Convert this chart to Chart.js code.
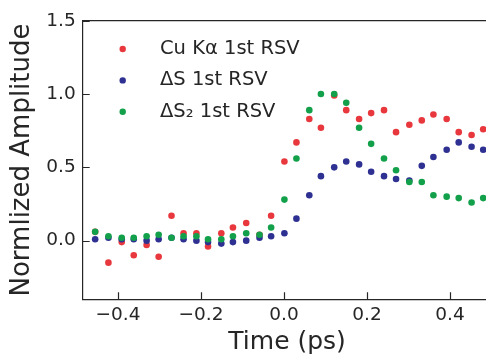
<!DOCTYPE html>
<html>
<head>
<meta charset="utf-8">
<script src="https://cdn.jsdelivr.net/npm/chart.js@4.4.0/dist/chart.umd.min.js"></script>
<style>
  html, body { margin: 0; padding: 0; background: #fff; overflow: hidden; }
  #wrap { width: 486px; height: 357px; overflow: hidden; }
  #box { width: 500px; height: 357px; }
</style>
</head>
<body>
<div id="wrap"><div id="box"><canvas id="chart"></canvas></div></div>
<script>
// time delays (ps)
const times = [-0.455, -0.423, -0.391, -0.362, -0.331, -0.302, -0.271, -0.242,
  -0.211, -0.183, -0.151, -0.123, -0.091, -0.059, -0.031, 0.001,
  0.030, 0.061, 0.089, 0.121, 0.150, 0.181, 0.210, 0.241,
  0.270, 0.302, 0.332, 0.360, 0.392, 0.421, 0.452, 0.480];

const cuKa = [0.06, -0.15, -0.01, -0.10, -0.03, -0.11, 0.17, 0.05,
  0.05, -0.04, 0.05, 0.09, 0.12, 0.04, 0.17, 0.54,
  0.67, 0.83, 0.77, 0.99, 0.89, 0.83, 0.87, 0.89,
  0.74, 0.79, 0.82, 0.86, 0.83, 0.74, 0.72, 0.76];

const dS = [0.01, 0.02, 0.01, 0.01, 0.00, 0.01, 0.02, 0.01,
  0.00, -0.01, -0.02, -0.01, 0.00, 0.02, 0.03, 0.05,
  0.15, 0.31, 0.44, 0.50, 0.54, 0.52, 0.47, 0.44,
  0.42, 0.41, 0.51, 0.57, 0.62, 0.67, 0.64, 0.62];

const dS2 = [0.06, 0.03, 0.02, 0.02, 0.03, 0.04, 0.02, 0.03,
  0.03, 0.01, 0.01, 0.03, 0.05, 0.04, 0.09, 0.28,
  0.56, 0.89, 1.00, 1.00, 0.94, 0.77, 0.66, 0.56,
  0.48, 0.40, 0.40, 0.31, 0.30, 0.29, 0.26, 0.29];

const labels = ["Cu K\u03b1 1st RSV", "\u0394S 1st RSV", "\u0394S\u2082 1st RSV"];
const colors = ["#e8383d", "#2e3192", "#12a04a"];

const xTicks = [-0.4, -0.2, 0.0, 0.2, 0.4];
const yTicks = [0.0, 0.5, 1.0, 1.5];

const FONT = "'DejaVu Sans', sans-serif";
const INK = "#262626";

const pts = (ys) => ys.map((y, i) => ({ x: times[i], y: y }));
const fmt = (v) => (v < 0 ? "\u2212" : "") + Math.abs(v).toFixed(1);

// inward ticks, top spine and the in-plot legend
const frame = {
  id: "frame",
  afterDraw(chart) {
    const ctx = chart.ctx;
    const a = chart.chartArea;
    const xs = chart.scales.x, ys = chart.scales.y;
    ctx.save();
    ctx.strokeStyle = INK;
    ctx.lineWidth = 1.2;
    ctx.beginPath();
    ctx.moveTo(a.left, a.top);
    ctx.lineTo(a.right, a.top);
    xTicks.forEach((v) => {
      const px = Math.round(xs.getPixelForValue(v)) + 0.5;
      ctx.moveTo(px, a.bottom);
      ctx.lineTo(px, a.bottom - 7);
    });
    yTicks.forEach((v) => {
      const py = Math.round(ys.getPixelForValue(v)) + 0.5;
      ctx.moveTo(a.left, py);
      ctx.lineTo(a.left + 7, py);
    });
    ctx.stroke();

    ctx.font = "19.5px " + FONT;
    ctx.textBaseline = "middle";
    ctx.textAlign = "left";
    chart.data.datasets.forEach((ds, i) => {
      const y = 49 + i * 31.4;
      ctx.fillStyle = ds.backgroundColor;
      ctx.beginPath();
      ctx.arc(122.7, y, 3.2, 0, Math.PI * 2);
      ctx.fill();
      ctx.fillStyle = INK;
      ctx.fillText(ds.label, 160, y);
    });
    ctx.restore();
  }
};

const datasets = [cuKa, dS, dS2].map((ys, i) => ({
  label: labels[i],
  data: pts(ys),
  backgroundColor: colors[i],
  borderWidth: 0,
  pointRadius: 3.3,
  showLine: false,
  order: 3 - i
}));

new Chart(document.getElementById("chart"), {
  type: "scatter",
  data: { datasets: datasets },
  options: {
    responsive: true,
    maintainAspectRatio: false,
    animation: false,
    layout: { padding: { top: 20.7, right: 8.5, left: 0, bottom: 0 } },
    plugins: { legend: { display: false }, tooltip: { enabled: false } },
    scales: {
      x: {
        type: "linear",
        min: -0.485,
        max: 0.5,
        afterBuildTicks: (s) => { s.ticks = xTicks.map((v) => ({ value: v })); },
        afterFit: (s) => { s.height = 57.7; },
        grid: { display: false, drawTicks: false },
        border: { color: INK, width: 1.2 },
        ticks: { color: INK, font: { family: FONT, size: 18.5 }, padding: 5, callback: fmt, maxRotation: 0 },
        title: { display: true, text: "Time (ps)", color: INK, font: { family: FONT, size: 25 }, padding: { top: 0, bottom: 0 } }
      },
      y: {
        type: "linear",
        min: -0.4,
        max: 1.5,
        afterBuildTicks: (s) => { s.ticks = yTicks.map((v) => ({ value: v })); },
        afterFit: (s) => { s.width = 82.7; },
        grid: { display: false, drawTicks: false },
        border: { color: INK, width: 1.2 },
        ticks: { color: INK, font: { family: FONT, size: 18.5 }, padding: 7, callback: fmt },
        title: { display: true, text: "Normlized Amplitude", color: INK, font: { family: FONT, size: 26 }, padding: { top: 7, bottom: 0 } }
      }
    }
  },
  plugins: [frame]
});
</script>
</body>
</html>
